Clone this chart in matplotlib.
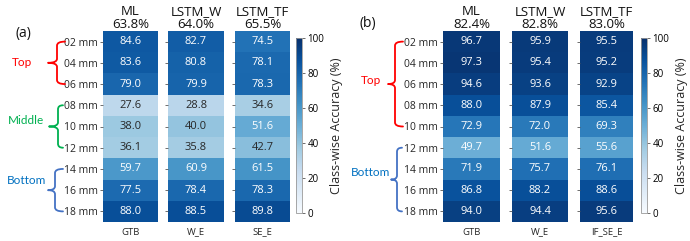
import matplotlib
matplotlib.use("Agg")
import matplotlib.pyplot as plt
import numpy as np
from matplotlib.path import Path
from matplotlib.patches import PathPatch
import matplotlib.transforms as mtransforms
from matplotlib.colors import Normalize, to_rgb

plt.rcParams['font.family'] = ['Open Sans', 'DejaVu Sans']

rows = ["02 mm", "04 mm", "06 mm", "08 mm", "10 mm", "12 mm", "14 mm", "16 mm", "18 mm"]
titles = ["ML", "LSTM_W", "LSTM_TF"]

a_overall = ["63.8%", "64.0%", "65.5%"]
a_xlabels = ["GTB", "W_E", "SE_E"]
a_ml = [84.6, 83.6, 79.0, 27.6, 38.0, 36.1, 59.7, 77.5, 88.0]
a_lstm_w = [82.7, 80.8, 79.9, 28.8, 40.0, 35.8, 60.9, 78.4, 88.5]
a_lstm_tf = [74.5, 78.1, 78.3, 34.6, 51.6, 42.7, 61.5, 78.3, 89.8]

b_overall = ["82.4%", "82.8%", "83.0%"]
b_xlabels = ["GTB", "W_E", "IF_SE_E"]
b_ml = [96.7, 97.3, 94.6, 88.0, 72.9, 49.7, 71.9, 86.8, 94.0]
b_lstm_w = [95.9, 95.4, 93.6, 87.9, 72.0, 51.6, 75.7, 88.2, 94.4]
b_lstm_tf = [95.5, 95.2, 92.9, 85.4, 69.3, 55.6, 76.1, 88.6, 95.6]

W, H = 690, 241
fig = plt.figure(figsize=(W / 100, H / 100), dpi=100)
cmap = plt.get_cmap("Blues")
norm = Normalize(0, 100)

def lum(c):
    rgb = np.array(to_rgb(c))
    rgb = np.where(rgb <= 0.03928, rgb / 12.92, ((rgb + 0.055) / 1.055) ** 2.4)
    return 0.2126 * rgb[0] + 0.7152 * rgb[1] + 0.0722 * rgb[2]

def px_axes(x0, x1, y0, y1):
    return fig.add_axes([x0 / W, 1 - y1 / H, (x1 - x0) / W, (y1 - y0) / H])

top, bot = 31, 222

def panel(cols, overall, xlabels, data, cbar_x):
    mesh = None
    for i, (x0, x1) in enumerate(cols):
        ax = px_axes(x0, x1, top, bot)
        vals = np.array(data[i]).reshape(-1, 1)
        mesh = ax.pcolormesh(vals, cmap=cmap, norm=norm)
        ax.set_xlim(0, 1)
        ax.set_ylim(len(rows), 0)
        for s in ax.spines.values():
            s.set_visible(False)
        for r, v in enumerate(data[i]):
            c = cmap(norm(v))
            tc = "white" if lum(c) < 0.408 else "#262626"
            ax.text(0.5, r + 0.5, f"{v:.1f}", ha="center", va="center",
                    color=tc, fontsize=8)
        ax.set_yticks(np.arange(len(rows)) + 0.5)
        if i == 0:
            ax.set_yticklabels(rows, fontsize=7.5, color="#262626")
        else:
            ax.set_yticklabels([])
        ax.tick_params(axis="y", length=2.5, width=0.6, pad=1, color="#555555")
        ax.set_xticks([0.5])
        ax.set_xticklabels([xlabels[i]], fontsize=6.8, color="#262626")
        ax.tick_params(axis="x", length=0, pad=4)
        ax.set_title(f"{titles[i]}\n{overall[i]}", fontsize=9.5, pad=2,
                     linespacing=1.0, color="#111111")
    cax = px_axes(cbar_x[0], cbar_x[1], 38, 213)
    cb = fig.colorbar(mesh, cax=cax)
    cb.set_ticks([0, 20, 40, 60, 80, 100])
    cb.ax.tick_params(labelsize=7, length=2.5, width=0.6, pad=1.5, color="#555555")
    cb.outline.set_edgecolor("#999999")
    cb.outline.set_linewidth(0.6)
    cb.set_label("Class-wise Accuracy (%)", fontsize=9, labelpad=4, color="#262626")

panel([(103, 158), (168, 224), (235, 290)], a_overall, a_xlabels,
      [a_ml, a_lstm_w, a_lstm_tf], (296, 302))
panel([(443, 500), (512, 568), (580, 633)], b_overall, b_xlabels,
      [b_ml, b_lstm_w, b_lstm_tf], (641, 647))

trans = mtransforms.Affine2D().scale(1 / W, -1 / H).translate(0, 1) + fig.transFigure

row_c = [top + (bot - top) / 9 * (i + 0.5) for i in range(9)]

def brace(x_end, x_v, x_tip, r0, r1, color):
    yt, yb = row_c[r0], row_c[r1]
    ym = (yt + yb) / 2
    r = 4
    verts = [(x_end, yt), (x_v, yt), (x_v, yt + r),
             (x_v, ym - r), (x_v, ym), (x_tip, ym),
             (x_v, ym), (x_v, ym + r),
             (x_v, yb - r), (x_v, yb), (x_end, yb)]
    codes = [Path.MOVETO, Path.CURVE3, Path.CURVE3,
             Path.LINETO, Path.CURVE3, Path.CURVE3,
             Path.CURVE3, Path.CURVE3,
             Path.LINETO, Path.CURVE3, Path.CURVE3]
    p = PathPatch(Path(verts, codes), transform=trans, fill=False,
                  edgecolor=color, lw=1.3, capstyle="round", joinstyle="round")
    fig.add_artist(p)

red, green, blue_t, blue_b = "#ff0000", "#00b050", "#0070c0", "#4472c4"

brace(65, 57, 48, 0, 2, red)
brace(63, 58, 49, 3, 5, green)
brace(63, 55, 48, 6, 8, blue_b)
brace(403, 395, 388, 0, 4, red)
brace(402, 397, 391, 5, 8, blue_b)

lab_kw = dict(transform=trans, ha="center", va="center", fontsize=8.5, family=["Lato", "DejaVu Sans"])
fig.text(22, 63, "Top", color=red, **lab_kw)
fig.text(26, 121, "Middle", color=green, **lab_kw)
fig.text(27, 181, "Bottom", color=blue_t, **lab_kw)
fig.text(371, 80, "Top", color=red, **lab_kw)
fig.text(371, 172, "Bottom", color=blue_t, **lab_kw)

fig.text(23, 33, "(a)", transform=trans, ha="center", va="center", fontsize=10, color="#111111")
fig.text(368, 23, "(b)", transform=trans, ha="center", va="center", fontsize=10, color="#111111")

fig.savefig("out.png", dpi=100)
